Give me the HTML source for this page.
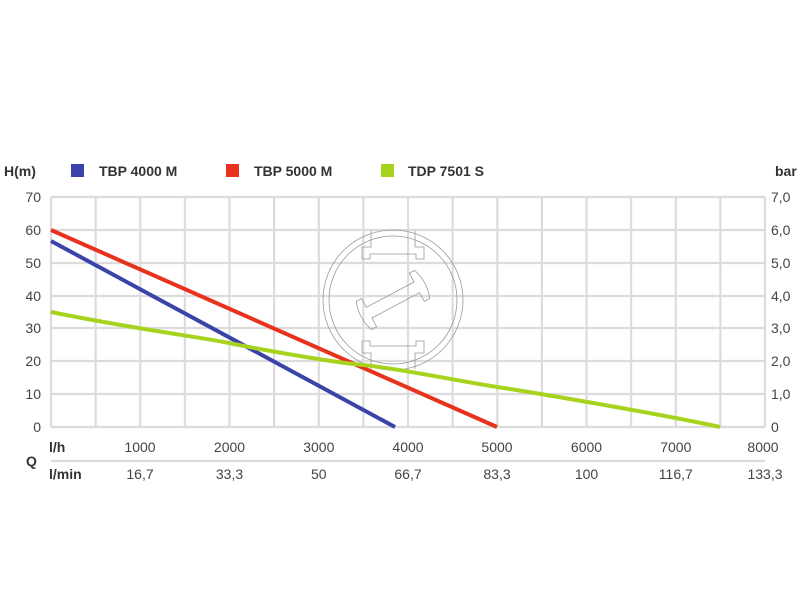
<!DOCTYPE html>
<html><head><meta charset="utf-8"><style>
body{margin:0;background:#fff;}
svg text{font-family:"Liberation Sans",sans-serif;}
</style></head><body>
<svg width="800" height="600" xmlns="http://www.w3.org/2000/svg">
<rect width="800" height="600" fill="#fff"/>
<g stroke="#dcdcdc" stroke-width="2.2" fill="none">
<line x1="51" y1="197" x2="765" y2="197"/><line x1="51" y1="230" x2="765" y2="230"/><line x1="51" y1="263" x2="765" y2="263"/><line x1="51" y1="296" x2="765" y2="296"/><line x1="51" y1="328" x2="765" y2="328"/><line x1="51" y1="361" x2="765" y2="361"/><line x1="51" y1="394" x2="765" y2="394"/><line x1="51" y1="427" x2="765" y2="427"/>
<line x1="51" y1="197" x2="51" y2="427"/><line x1="95.6" y1="197" x2="95.6" y2="427"/><line x1="140.3" y1="197" x2="140.3" y2="427"/><line x1="184.9" y1="197" x2="184.9" y2="427"/><line x1="229.5" y1="197" x2="229.5" y2="427"/><line x1="274.1" y1="197" x2="274.1" y2="427"/><line x1="318.8" y1="197" x2="318.8" y2="427"/><line x1="363.4" y1="197" x2="363.4" y2="427"/><line x1="408" y1="197" x2="408" y2="427"/><line x1="452.6" y1="197" x2="452.6" y2="427"/><line x1="497.3" y1="197" x2="497.3" y2="427"/><line x1="541.9" y1="197" x2="541.9" y2="427"/><line x1="586.5" y1="197" x2="586.5" y2="427"/><line x1="631.1" y1="197" x2="631.1" y2="427"/><line x1="675.8" y1="197" x2="675.8" y2="427"/><line x1="720.4" y1="197" x2="720.4" y2="427"/><line x1="765" y1="197" x2="765" y2="427"/>
<line x1="51" y1="461" x2="765" y2="461"/>
</g>
<g stroke="#999" stroke-width="0.8" fill="none">
<circle cx="393" cy="300" r="70"/><circle cx="393" cy="300" r="64"/>
<path d="M371 231 v16 h-9 v12 h8 v-5 h46 v5 h8 v-12 h-9 v-16"/>
<path d="M371 369 v-16 h-9 v-12 h8 v5 h46 v-5 h8 v12 h-9 v16"/>
<g transform="rotate(-28 393 300)">
<path d="M360 284 q-6 16 0 32 h6 v-10 h54 v10 h6 q6 -16 0 -32 h-6 v10 h-54 v-10 z"/>
</g>
</g>
<g stroke-width="4" fill="none" stroke-linecap="butt">
<polyline stroke="#3a43a8" points="51,241 395,427"/>
<polyline stroke="#e8321e" points="51,230 497,427"/>
<path stroke="#a6d41e" d="M51,312 C140,330 200,337 229,343 S330,362 363,365 S470,383 497,387 S650,412 720,427"/>
</g>
<g font-size="14" fill="#333">
<text x="4" y="176" font-weight="bold">H(m)</text>
<rect x="71" y="164" width="13" height="13" fill="#3a43a8"/><text x="99" y="176" font-weight="bold">TBP 4000 M</text>
<rect x="226" y="164" width="13" height="13" fill="#e8321e"/><text x="254" y="176" font-weight="bold">TBP 5000 M</text>
<rect x="381" y="164" width="13" height="13" fill="#a6d41e"/><text x="408" y="176" font-weight="bold">TDP 7501 S</text>
<text x="775" y="176" font-weight="bold">bar</text>
</g>
<g font-size="14" fill="#444" text-anchor="end">
<text x="41" y="202">70</text><text x="41" y="235">60</text><text x="41" y="268">50</text><text x="41" y="301">40</text><text x="41" y="333">30</text><text x="41" y="366">20</text><text x="41" y="399">10</text><text x="41" y="432">0</text>
</g>
<g font-size="14" fill="#444">
<text x="771" y="202">7,0</text><text x="771" y="235">6,0</text><text x="771" y="268">5,0</text><text x="771" y="301">4,0</text><text x="771" y="333">3,0</text><text x="771" y="366">2,0</text><text x="771" y="399">1,0</text><text x="771" y="432">0</text>
</g>
<g font-size="14" fill="#444" text-anchor="middle">
<text x="140" y="452">1000</text><text x="229.5" y="452">2000</text><text x="318.8" y="452">3000</text><text x="408" y="452">4000</text><text x="497" y="452">5000</text><text x="586.5" y="452">6000</text><text x="675.8" y="452">7000</text><text x="763" y="452">8000</text>
<text x="140" y="479">16,7</text><text x="229.5" y="479">33,3</text><text x="318.8" y="479">50</text><text x="408" y="479">66,7</text><text x="497" y="479">83,3</text><text x="586.5" y="479">100</text><text x="675.8" y="479">116,7</text><text x="765" y="479">133,3</text>
</g>
<g font-size="14" fill="#333" font-weight="bold">
<text x="49" y="452">l/h</text><text x="49" y="479">l/min</text><text x="26" y="466">Q</text>
</g>
</svg>
</body></html>
